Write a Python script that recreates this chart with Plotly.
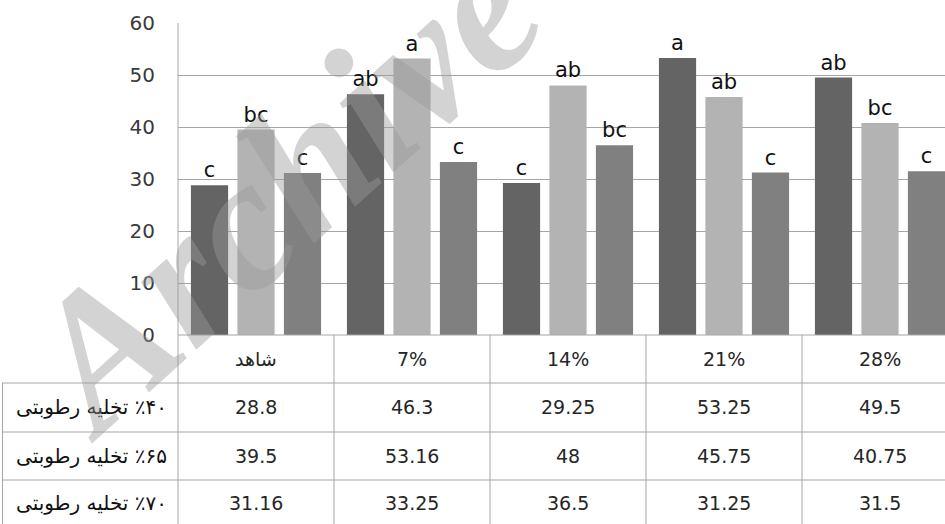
import plotly.graph_objects as go

W, H = 945, 524

categories = ["شاهد", "7%", "14%", "21%", "28%"]
series_names = [
    "\u202b٪۴۰ تخلیه رطوبتی\u202c",
    "\u202b٪۶۵ تخلیه رطوبتی\u202c",
    "\u202b٪۷۰ تخلیه رطوبتی\u202c",
]
s40 = [28.8, 46.3, 29.25, 53.25, 49.5]
s65 = [39.5, 53.16, 48, 45.75, 40.75]
s70 = [31.16, 33.25, 36.5, 31.25, 31.5]
s40_txt = ["28.8", "46.3", "29.25", "53.25", "49.5"]
s65_txt = ["39.5", "53.16", "48", "45.75", "40.75"]
s70_txt = ["31.16", "33.25", "36.5", "31.25", "31.5"]
s40_letters = ["c", "ab", "c", "a", "ab"]
s65_letters = ["bc", "a", "ab", "ab", "bc"]
s70_letters = ["c", "c", "bc", "c", "c"]
y_ticks = [0, 10, 20, 30, 40, 50, 60]

colors = ["#646464", "#b3b3b3", "#808080"]
values = [s40, s65, s70]
value_txt = [s40_txt, s65_txt, s70_txt]
letters = [s40_letters, s65_letters, s70_letters]

FONT = "DejaVu Sans"
GRID = "#a6a6a6"
TXT = "#262626"

def py(pix):
    return 1 - pix / H

def px(pix):
    return pix / W

plot_left, plot_top, plot_bottom = 178, 23, 335
col_w = 156

fig = go.Figure()
x_idx = list(range(len(categories)))
for i in range(3):
    fig.add_trace(go.Bar(
        x=x_idx, y=values[i], name=series_names[i],
        marker=dict(color=colors[i], line=dict(width=0)),
        text=letters[i], textposition="outside",
        textfont=dict(family=FONT, size=21, color="#111111"),
        cliponaxis=False, hoverinfo="skip",
    ))

shapes = []
annotations = []

row_lines = [335, 383, 432, 480, 529]
row_centers = [407, 456, 503]

shapes.append(dict(type="line", xref="paper", yref="paper",
                   x0=px(plot_left), x1=1, y0=py(row_lines[0]), y1=py(row_lines[0]),
                   line=dict(color=GRID, width=1)))
for yl in row_lines[1:]:
    shapes.append(dict(type="line", xref="paper", yref="paper",
                       x0=px(2), x1=1, y0=py(yl), y1=py(yl),
                       line=dict(color=GRID, width=1)))
shapes.append(dict(type="line", xref="paper", yref="paper",
                   x0=px(plot_left), x1=px(plot_left), y0=py(plot_top), y1=py(H + 5),
                   line=dict(color=GRID, width=1)))
shapes.append(dict(type="line", xref="paper", yref="paper",
                   x0=px(2.5), x1=px(2.5), y0=py(row_lines[1]), y1=py(H + 5),
                   line=dict(color=GRID, width=1)))
for k in range(len(categories)):
    shapes.append(dict(type="line", xref="x", yref="paper",
                       x0=k + 0.5, x1=k + 0.5, y0=py(row_lines[0]), y1=py(H + 5),
                       line=dict(color=GRID, width=1)))

for k, c in enumerate(categories):
    annotations.append(dict(x=k, y=py(359), xref="x", yref="paper", text=c,
                            xanchor="center", yanchor="middle",
                            showarrow=False, font=dict(family=FONT, size=19, color=TXT)))
for i in range(3):
    annotations.append(dict(x=px(91), y=py(row_centers[i]), xref="paper", yref="paper",
                            text=series_names[i], showarrow=False,
                            xanchor="center", yanchor="middle",
                            font=dict(family=FONT, size=20, color="#111111")))
    for k in range(len(categories)):
        annotations.append(dict(x=k, y=py(row_centers[i]), xref="x", yref="paper",
                                text=value_txt[i][k], showarrow=False,
                                xanchor="center", yanchor="middle",
                                font=dict(family=FONT, size=19, color=TXT)))

# watermark
annotations.append(dict(x=px(280), y=py(188), xref="paper", yref="paper",
                        xanchor="center", yanchor="middle",
                        text="<b><i>Archive</i></b>", showarrow=False, textangle=-42,
                        font=dict(family="Liberation Serif", size=190,
                                  color="rgba(153,153,153,0.43)")))

n_vis = (W - plot_left) / col_w
fig.update_layout(
    width=W, height=H, autosize=False,
    margin=dict(l=0, r=0, t=0, b=0, pad=0),
    paper_bgcolor="white", plot_bgcolor="white",
    barmode="group", bargap=0.106, bargroupgap=0.2,
    showlegend=False,
    xaxis=dict(domain=[px(plot_left), 1], range=[-0.5, -0.5 + n_vis],
               showticklabels=False, showgrid=False, zeroline=False, showline=False,
               automargin=False, fixedrange=True),
    yaxis=dict(domain=[py(plot_bottom), py(plot_top)], range=[0, 60],
               tickvals=y_ticks, showgrid=True, gridcolor=GRID, gridwidth=1,
               zeroline=False, showline=False, ticks="",
               ticklabelstandoff=22, automargin=False,
               tickfont=dict(family=FONT, size=20, color="#3a3a3a"),
               fixedrange=True),
    shapes=shapes, annotations=annotations,
    hovermode=False,
)

fig.write_html("out.html", config={"displayModeBar": False})
